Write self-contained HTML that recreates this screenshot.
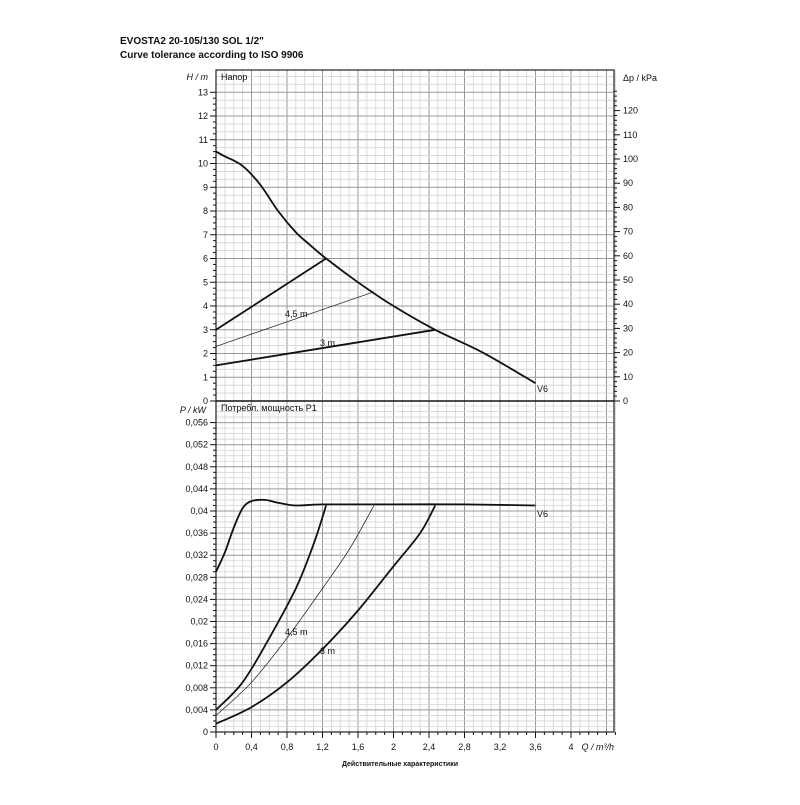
<!DOCTYPE html>
<html><head><meta charset="utf-8"><style>
body{margin:0;background:#fff;width:800px;height:800px;overflow:hidden}
svg text{font-family:"Liberation Sans",sans-serif;fill:#111}
</style></head><body>
<svg id="c" width="800" height="800" xmlns="http://www.w3.org/2000/svg">
<text x="120" y="44" font-size="10" font-weight="bold">EVOSTA2 20-105/130 SOL 1/2"</text>
<text x="120" y="58" font-size="10" font-weight="bold">Curve tolerance according to ISO 9906</text>
</svg>
<script>
const qTicks=[0,0.4,0.8,1.2,1.6,2,2.4,2.8,3.2,3.6,4];
const qLabels=["0","0,4","0,8","1,2","1,6","2","2,4","2,8","3,2","3,6","4"];
const hTicks=[0,1,2,3,4,5,6,7,8,9,10,11,12,13];
const kpaTicks=[0,10,20,30,40,50,60,70,80,90,100,110,120];
const pTicks=[0,0.004,0.008,0.012,0.016,0.02,0.024,0.028,0.032,0.036,0.04,0.044,0.048,0.052,0.056];
const pLabels=["0","0,004","0,008","0,012","0,016","0,02","0,024","0,028","0,032","0,036","0,04","0,044","0,048","0,052","0,056"];
const v6HQ=[0,0.1,0.3,0.5,0.7,0.9,1.05,1.24,1.6,2.0,2.47,3.0,3.6];
const v6H=[10.5,10.3,9.9,9.1,8.0,7.1,6.6,6.0,5.0,4.0,3.0,2.05,0.75];
const cp6Q=[0,1.24], cp6H=[3,6];
const cp45Q=[0,1.78], cp45H=[2.3,4.6];
const cp3Q=[0,2.47], cp3H=[1.5,3.0];
const v6PQ=[0,0.1,0.2,0.3,0.4,0.55,0.7,0.9,1.2,2.0,2.8,3.6];
const v6P=[0.029,0.0325,0.037,0.0405,0.0418,0.042,0.0415,0.041,0.0412,0.0412,0.0412,0.041];
const pc6Q=[0,0.3,0.6,0.9,1.1,1.24], pc6P=[0.004,0.009,0.017,0.026,0.034,0.041];
const pc45Q=[0,0.4,0.8,1.2,1.5,1.78], pc45P=[0.003,0.009,0.017,0.026,0.033,0.041];
const pc3Q=[0,0.4,0.8,1.2,1.6,2.0,2.3,2.47], pc3P=[0.0015,0.0045,0.009,0.015,0.022,0.030,0.036,0.041];

const svg=document.getElementById('c');const NS="http://www.w3.org/2000/svg";
const X0=216,X1=614,QMAX=(X1-X0)/88.75;
const x=q=>X0+q*88.75;
const yH=h=>401-h*23.75;
const yK=k=>401-k*2.42;
const yP=p=>732-p*5525;
function el(t,a,txt){const e=document.createElementNS(NS,t);for(const k in a)e.setAttribute(k,a[k]);if(txt!==undefined)e.textContent=txt;svg.appendChild(e);return e;}
function line(x1,y1,x2,y2,c,w){return el('line',{x1,y1,x2,y2,stroke:c,'stroke-width':w});}
function grid(top,bot,yf,minStep,maxV,majStep){
 for(let i=0;i<=Math.round(QMAX*10);i++){const q=i/10;const maj=i%4==0;const l=line(x(q),top,x(q),bot,maj?'#999':'#d4d4d4',maj?1:0.8);}
 for(let v=0;yf(v)>=top-0.1;v+=minStep){const r=Math.round(v/minStep);const maj=r%Math.round(majStep/minStep)==0;const l=line(X0,yf(v),X1,yf(v),maj?'#999':'#d4d4d4',maj?1:0.8);}
}
grid(70,401,yH,1/3,14,1);
grid(401,732,yP,0.001,0.06,0.004);
el('rect',{x:X0,y:70,width:X1-X0,height:662,fill:'none',stroke:'#222','stroke-width':1.2});
line(X0,401,X1,401,'#111',1.5);
hTicks.forEach(h=>{line(X0-6,yH(h),X0,yH(h),'#111',1);const t=el('text',{x:X0-8,y:yH(h)+3,'font-size':9,'text-anchor':'end'},h);
 for(let k=1;k<4&&h<13;k++)line(X0-3,yH(h+k/4),X0,yH(h+k/4),'#111',1);});
el('text',{x:X0-8,y:80,'font-size':9,'text-anchor':'end','font-style':'italic'},'H / m');
kpaTicks.forEach(k=>{line(X1,yK(k),X1+6,yK(k),'#111',1);const t=el('text',{x:X1+9,y:yK(k)+3,'font-size':9},k);
 for(let j=1;j<5;j++)if(yK(k+j*2)>72)line(X1,yK(k+j*2),X1+3,yK(k+j*2),'#111',1);});
el('text',{x:X1+9,y:81,'font-size':9},'Δp / kPa');
pTicks.forEach((p,i)=>{line(X0-6,yP(p),X0,yP(p),'#111',1);const t=el('text',{x:X0-8,y:yP(p)+3,'font-size':9,'text-anchor':'end'},pLabels[i]);
 for(let k=1;k<4&&p<0.056;k++)line(X0-3,yP(p+k*0.001),X0,yP(p+k*0.001),'#111',1);});
el('text',{x:X0-10,y:413,'font-size':9,'text-anchor':'end','font-style':'italic'},'P / kW');
qTicks.forEach((q,i)=>{line(x(q),732,x(q),738,'#111',1);const t=el('text',{x:x(q),y:750,'font-size':9,'text-anchor':'middle'},qLabels[i]);});
for(let i=0;i<=45;i++)line(x(i/10),732,x(i/10),735,'#111',1);
el('text',{x:614,y:750,'font-size':9,'text-anchor':'end','font-style':'italic'},'Q / m³/h');
el('text',{x:400,y:766,'font-size':7,'font-weight':'bold','text-anchor':'middle'},'Действительные характеристики');
el('text',{x:221,y:80,'font-size':9},'Напор');
el('text',{x:221,y:411,'font-size':9},'Потребл. мощность P1');
function curve(qs,vs,yf,w,name){
 const pts=qs.map((q,i)=>[x(q),yf(vs[i])]);
 let d='M'+pts[0][0].toFixed(1)+','+pts[0][1].toFixed(1);
 for(let i=0;i<pts.length-1;i++){
  const p0=pts[Math.max(0,i-1)],p1=pts[i],p2=pts[i+1],p3=pts[Math.min(pts.length-1,i+2)];
  const c1=[p1[0]+(p2[0]-p0[0])/6,p1[1]+(p2[1]-p0[1])/6];
  const c2=[p2[0]-(p3[0]-p1[0])/6,p2[1]-(p3[1]-p1[1])/6];
  d+=' C'+c1.map(v=>v.toFixed(1)).join(',')+' '+c2.map(v=>v.toFixed(1)).join(',')+' '+p2.map(v=>v.toFixed(1)).join(',');
 }
 const p=el('path',{d,fill:'none',stroke:'#111','stroke-width':w,'stroke-linejoin':'round'});}
curve(v6HQ,v6H,yH,1.8,'v6-head-curve');
curve(cp6Q,cp6H,yH,1.8,'cp-6m-head-line');
curve(cp45Q,cp45H,yH,0.7,'cp-4-5m-head-line');
curve(cp3Q,cp3H,yH,1.8,'cp-3m-head-line');
curve(v6PQ,v6P,yP,1.8,'v6-power-curve');
curve(pc6Q,pc6P,yP,1.8,'power-6m-curve');
curve(pc45Q,pc45P,yP,0.7,'power-4-5m-curve');
curve(pc3Q,pc3P,yP,1.8,'power-3m-curve');
[['4,5 m',285,317],['3 m',320,346],['4,5 m',285,635],['3 m',320,654],['V6',537,392],['V6',537,517]].forEach(a=>{const t=el('text',{x:a[1],y:a[2],'font-size':9},a[0]);});
</script>
</body></html>
